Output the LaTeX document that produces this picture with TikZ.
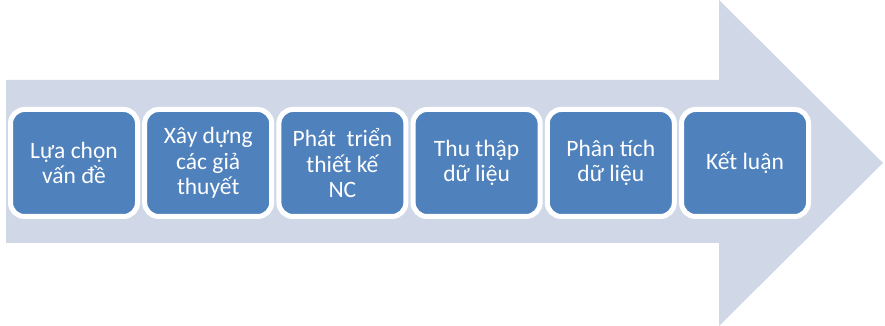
\documentclass[tikz,border=0pt]{standalone}
\usepackage{fontspec}
\setmainfont{Carlito}
\usepackage{xcolor}
\usepackage{tikz}
\usetikzlibrary{positioning}

\definecolor{shaft}{HTML}{D0D8E8}
\definecolor{stagefill}{HTML}{4F81BD}

\begin{document}
\begin{tikzpicture}[
    x=1pt, y=1pt,
    node distance=2.2pt,
    stage/.style={draw=white, line width=5pt, fill=stagefill, rounded corners=14pt,
                  minimum width=127pt, minimum height=107pt, align=center,
                  text=white, font=\fontsize{23.5}{25.5}\selectfont, inner sep=2pt}
]
\useasboundingbox (0,0) rectangle (885,326);
% big arrow behind the stages
\fill[shaft] (6,83) -- (719,83) -- (719,0) -- (883,163) -- (719,326)
    -- (719,246) -- (6,246) -- cycle;

\node[stage] (s1) at (74,163) {Lựa chọn\\vấn đề};
\node[stage, right=of s1] (s2) {Xây dựng\\các giả\\thuyết};
\node[stage, right=of s2] (s3) {Phát\ \ triển\\thiết kế\\NC};
\node[stage, right=of s3] (s4) {Thu thập\\dữ liệu};
\node[stage, right=of s4] (s5) {Phân tích\\dữ liệu};
\node[stage, right=of s5] (s6) {Kết luận};
\end{tikzpicture}
\end{document}
